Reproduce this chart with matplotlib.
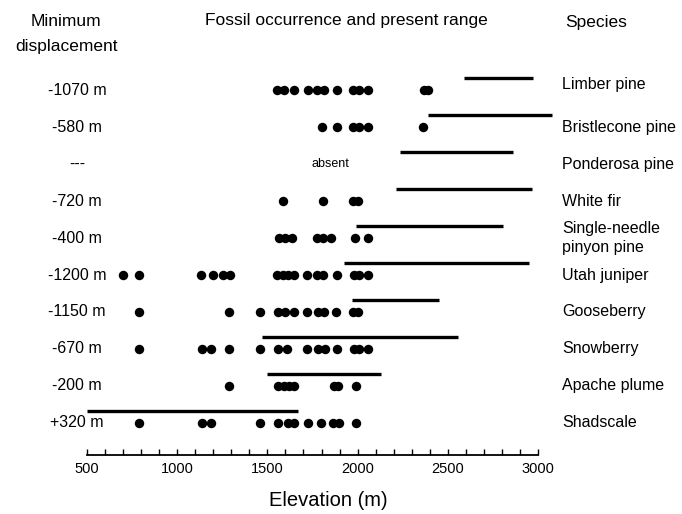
import matplotlib
matplotlib.use('Agg')
import matplotlib.pyplot as plt
from matplotlib.ticker import MultipleLocator

plt.rcParams['font.family'] = ['Liberation Sans', 'DejaVu Sans']

# rows, top to bottom
species = ['Limber pine', 'Bristlecone pine', 'Ponderosa pine', 'White fir',
           'Single-needle\npinyon pine', 'Utah juniper', 'Gooseberry',
           'Snowberry', 'Apache plume', 'Shadscale']
displacement = ['-1070 m', '-580 m', '---', '-720 m', '-400 m', '-1200 m',
                '-1150 m', '-670 m', '-200 m', '+320 m']

# present elevational range (m)
range_low = [2590, 2390, 2235, 2215, 1990, 1925, 1970, 1470, 1500, 500]
range_high = [2970, 3080, 2860, 2965, 2805, 2950, 2450, 2555, 2130, 1670]

# fossil occurrences (m)
fossils = [
    [1555, 1590, 1645, 1725, 1775, 1815, 1885, 1975, 2010, 2060, 2370, 2390],
    [1800, 1885, 1975, 2010, 2060, 2365],
    [],
    [1585, 1810, 1975, 2000],
    [1565, 1595, 1635, 1775, 1810, 1855, 1985, 2055],
    [700, 790, 1130, 1200, 1255, 1295, 1555, 1585, 1615, 1645, 1720, 1775,
     1810, 1885, 1980, 2010, 2060],
    [790, 1285, 1460, 1560, 1600, 1650, 1720, 1780, 1815, 1880, 1975, 2000],
    [790, 1135, 1190, 1285, 1460, 1560, 1610, 1720, 1780, 1820, 1885, 1980,
     2010, 2055],
    [1285, 1560, 1590, 1620, 1645, 1870, 1890, 1990],
    [790, 1135, 1190, 1460, 1560, 1615, 1645, 1725, 1795, 1865, 1895, 1990],
]

W, H = 682, 514
fig = plt.figure(figsize=(W / 100, H / 100), dpi=100)
ax = fig.add_axes([87 / W, 59 / H, 451 / W, 395 / H])

for i, sp in enumerate(species):
    # present range bar, a bit above the fossil dots
    ax.plot([range_low[i], range_high[i]], [i - 0.32, i - 0.32],
            color='black', lw=2.4, solid_capstyle='butt', clip_on=False)
    if fossils[i]:
        ax.plot(fossils[i], [i] * len(fossils[i]), 'o', color='black',
                ms=6.8, mew=0, clip_on=False)

ax.text(1850, 2, 'absent', ha='center', va='center', fontsize=9)

ax.set_xlim(500, 3000)
ax.set_ylim(9.865, -0.811)
ax.xaxis.set_major_locator(MultipleLocator(500))
ax.xaxis.set_minor_locator(MultipleLocator(100))
ax.tick_params(axis='x', which='both', direction='in', length=4, width=1,
               labelsize=10.5, pad=5)
ax.set_yticks([])
for s in ['top', 'left', 'right']:
    ax.spines[s].set_visible(False)
ax.spines['bottom'].set_linewidth(1.3)

# row labels
yt = ax.get_yaxis_transform()
for i in range(len(species)):
    ax.text((77 - 87) / 451, i, displacement[i], transform=yt, ha='center',
            va='center', fontsize=11.5, clip_on=False)
    ax.text((562 - 87) / 451, i - (0.15 if i == 0 else 0), species[i],
            transform=yt, ha='left', va='center', fontsize=11.5,
            clip_on=False, linespacing=1.3)

# headers
fig.text(66 / W, 1 - 21 / H, 'Minimum', ha='center', va='center', fontsize=12.5)
fig.text(67 / W, 1 - 46 / H, 'displacement', ha='center', va='center', fontsize=12.5)
fig.text(346 / W, 1 - 21 / H, 'Fossil occurrence and present range',
         ha='center', va='center', fontsize=12.5)
fig.text(596 / W, 1 - 22 / H, 'Species', ha='center', va='center', fontsize=12.5)
fig.text(328 / W, 1 - 500 / H, 'Elevation (m)', ha='center', va='center', fontsize=14.5)

plt.savefig('out.png', dpi=100)
